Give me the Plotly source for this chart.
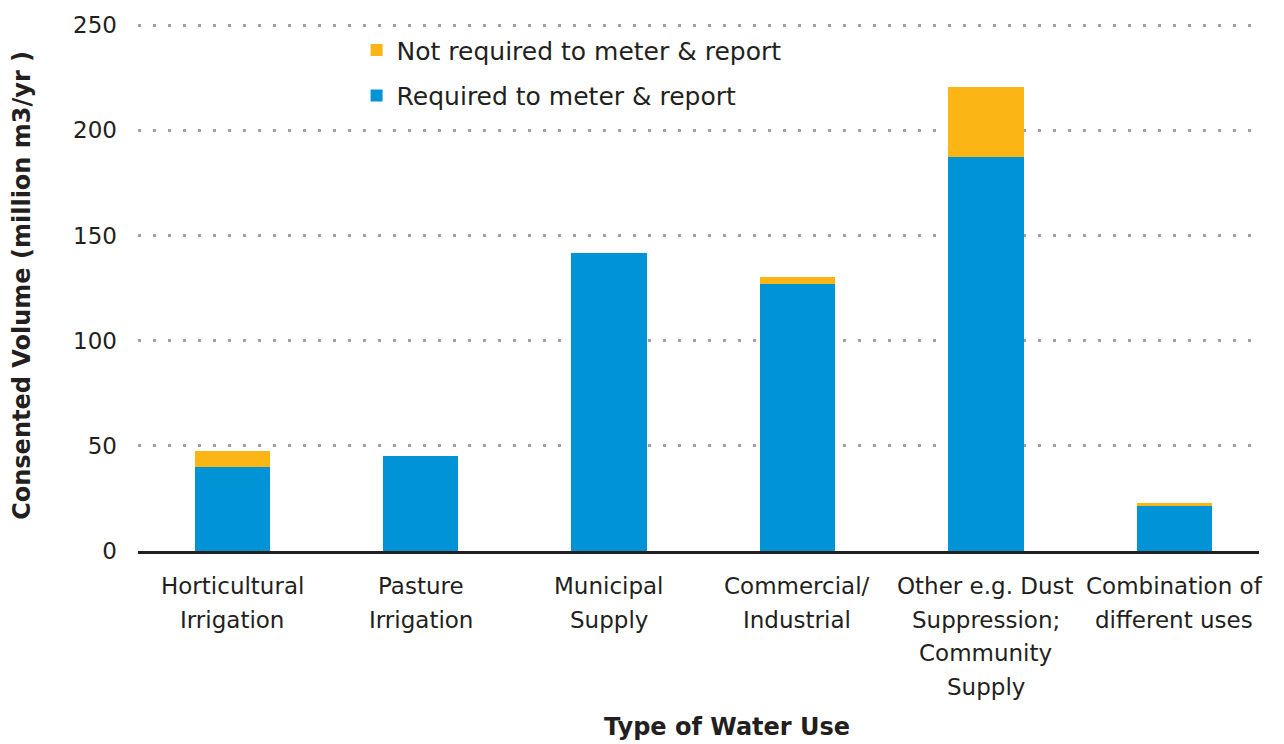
import plotly.graph_objects as go

# Consented volume by type of water use (million m3/yr)
categories = [
    "Horticultural<br>Irrigation",
    "Pasture<br>Irrigation",
    "Municipal<br>Supply",
    "Commercial/<br>Industrial",
    "Other e.g. Dust<br>Suppression;<br>Community<br>Supply",
    "Combination of<br>different uses",
]
required = [40.1, 45.3, 141.6, 127.0, 187.3, 21.4]
not_required = [7.3, 0.0, 0.0, 3.2, 33.5, 1.3]

y_ticks = [0, 50, 100, 150, 200, 250]

BLUE = "#0093D6"
YELLOW = "#FBB615"
INK = "#231F20"
FONT = "DejaVu Sans"

x_idx = list(range(len(categories)))

fig = go.Figure()
fig.add_trace(go.Bar(
    x=x_idx, y=required, name="Required to meter & report",
    marker=dict(color=BLUE, line=dict(width=0)),
    width=0.4, legendrank=2, legendgroup="req",
))
fig.add_trace(go.Bar(
    x=x_idx, y=not_required, name="Not required to meter & report",
    marker=dict(color=YELLOW, line=dict(width=0)),
    width=0.4, legendrank=1, legendgroup="notreq",
))

# Category labels, one line at a time so the line spacing can be set
LINE_GAP = 33.5
label_annotations = []
for i, label in enumerate(categories):
    for j, line in enumerate(label.split("<br>")):
        label_annotations.append(dict(
            text=line, xref="x", yref="paper", x=i, y=0,
            xanchor="center", yanchor="middle",
            yshift=-35 - j * LINE_GAP, showarrow=False,
            font=dict(family=FONT, size=23, color=INK),
        ))

plot_w = 1284 - 138 - 25

fig.update_layout(
    barmode="stack",
    width=1284, height=744,
    margin=dict(l=138, r=25, t=17.3, b=193),
    plot_bgcolor="white", paper_bgcolor="white",
    font=dict(family=FONT, size=22, color=INK),
    showlegend=True,
    legend=dict(
        x=0.195, y=0.988, xanchor="left", yanchor="top",
        traceorder="grouped", tracegroupgap=10,
        font=dict(family=FONT, size=25, color=INK),
        bgcolor="rgba(0,0,0,0)",
    ),
    xaxis=dict(
        range=[-0.5, 5.45],
        tickmode="array", tickvals=x_idx, ticktext=[""] * len(x_idx),
        showgrid=False, zeroline=False,
        showline=True, linecolor=INK, linewidth=3,
        ticks="",
    ),
    yaxis=dict(
        range=[0, 252],
        tickmode="array", tickvals=y_ticks,
        showgrid=True, gridcolor="#A0A0A0", griddash="3px,12px", gridwidth=2.5,
        zeroline=False, showline=False, ticks="",
        tickfont=dict(family=FONT, size=23, color=INK), ticklabelstandoff=20,
    ),
    annotations=label_annotations + [
        dict(
            text="<b>Type of Water Use</b>", xref="paper", yref="paper",
            x=(727 - 138) / plot_w, y=0, yshift=-(727 - 551),
            xanchor="center", yanchor="middle", showarrow=False,
            font=dict(family=FONT, size=24, color=INK),
        ),
        dict(
            text="<b>Consented Volume (million m3/yr )</b>",
            xref="paper", yref="paper",
            x=(22 - 138) / plot_w, y=(551 - 284) / (551 - 17.3),
            xanchor="center", yanchor="middle", textangle=-90,
            showarrow=False,
            font=dict(family=FONT, size=24, color=INK),
        ),
    ],
)

fig.write_html("out.html")
